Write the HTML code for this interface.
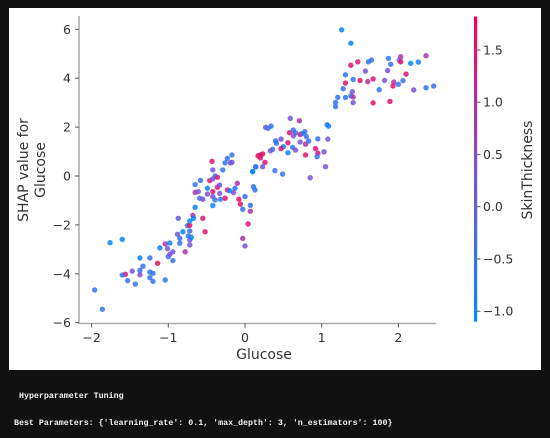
<!DOCTYPE html>
<html><head><meta charset="utf-8"><style>
html,body{margin:0;padding:0;background:#111111;width:550px;height:438px;overflow:hidden}
#panel{position:absolute;left:9px;top:8px;width:532px;height:362px;background:#fff}
svg{position:absolute;left:0;top:0}
.t{font-family:"DejaVu Sans","Liberation Sans",sans-serif;fill:#333;font-size:12.5px}
.mono{position:absolute;font-family:"Liberation Mono",monospace;font-size:8.3px;color:#f4f4f4;white-space:pre;font-weight:600}
</style></head><body>
<div id="panel"></div>
<svg id="chart" width="550" height="438"></svg>
<div class="mono" style="left:19px;top:392px">Hyperparameter Tuning</div>
<div class="mono" style="left:14px;top:419px">Best Parameters: {'learning_rate': 0.1, 'max_depth': 3, 'n_estimators': 100}</div>
<script>
const glucose=[-1.96,-1.86,-1.76,-1.60,-1.56,-1.60,-1.53,-1.47,-1.43,-1.37,-1.37,-1.33,-1.37,-1.24,-1.24,-1.20,-1.24,-1.20,-1.14,-1.04,-1.11,-1.04,-1.01,-0.98,-1.0,-0.98,-0.94,-0.94,-0.87,-0.88,-0.85,-0.85,-0.81,-0.78,-0.75,-0.72,-0.72,-0.74,-0.72,-0.72,-0.70,-0.68,-0.72,-0.67,-0.55,-0.52,-0.65,-0.65,-0.58,-0.65,-0.61,-0.59,-0.55,-0.49,-0.49,-0.46,-0.42,-0.43,-0.42,-0.39,-0.36,-0.42,-0.42,-0.39,-0.42,-0.36,-0.33,-0.33,-0.29,-0.26,-0.23,-0.17,-0.19,-0.26,-0.32,-0.23,-0.20,-0.15,-0.13,-0.10,-0.08,-0.06,-0.03,0.0,0.07,0.07,0.04,-0.03,0.0,0.10,0.14,0.11,0.13,0.17,
1.18,1.18,0.59,0.71,0.27,0.30,0.34,1.07,1.09,0.58,0.63,0.66,0.63,0.72,0.75,0.78,0.80,0.83,0.72,0.79,0.47,0.40,0.41,0.56,0.50,0.47,0.62,0.66,0.56,0.36,0.33,0.92,0.95,0.94,0.79,0.95,1.08,1.03,1.05,0.85,0.20,0.23,0.20,0.26,0.23,0.14,0.10,0.39,0.49,-0.17,
1.26,1.38,1.38,1.47,1.61,1.65,1.87,1.90,2.03,2.01,2.03,2.16,2.26,2.36,1.57,1.86,1.31,2.10,1.41,1.50,1.60,1.67,1.82,1.94,1.93,2.00,2.06,2.20,2.36,2.46,1.31,1.28,1.21,1.31,1.40,1.38,1.41,1.41,1.75,1.67,1.89];
const shapValue=[-4.66,-5.45,-2.73,-2.59,-4.02,-4.05,-4.28,-3.89,-4.42,-4.04,-3.86,-3.69,-3.35,-3.35,-3.93,-3.98,-4.16,-4.31,-3.57,-4.25,-2.94,-2.78,-2.97,-2.74,-3.30,-3.20,-3.10,-3.46,-1.73,-2.38,-2.55,-2.75,-2.28,-3.10,-2.03,-2.02,-2.25,-2.45,-2.62,-2.82,-2.51,-1.61,-1.84,-1.73,-1.73,-2.28,-1.28,-0.35,-0.18,-0.67,-0.64,-0.91,-0.95,-0.50,-0.74,-0.19,-0.12,0.60,0.25,0.0,-0.05,-0.64,-0.84,-0.98,-1.21,-0.46,-0.37,-0.71,0.25,0.54,0.72,0.86,0.54,-0.91,-0.95,-0.57,-0.60,-0.68,-0.50,-0.30,-0.95,-1.15,-1.36,-0.84,-1.20,-1.44,-1.96,-2.55,-2.86,0.18,0.38,-0.44,-0.57,0.83,
3.01,2.84,2.36,2.26,1.99,1.95,2.04,2.10,2.04,1.77,1.88,1.76,1.64,1.70,1.74,1.81,1.61,1.43,1.39,1.30,1.51,1.44,1.34,1.36,1.20,1.12,1.17,1.06,0.95,1.09,1.03,1.12,0.93,0.79,0.86,1.52,1.51,0.99,0.38,-0.07,0.86,0.90,0.74,0.56,0.38,0.37,0.18,0.22,0.08,0.56,
5.98,5.43,4.53,4.67,4.67,4.74,4.81,4.57,4.88,4.74,4.67,4.61,4.66,4.92,4.29,4.31,4.14,4.17,3.95,3.91,3.86,3.97,3.91,3.84,3.68,3.75,3.90,3.52,3.61,3.68,3.80,3.57,3.22,3.21,3.45,3.28,3.23,3.00,3.53,2.99,3.05];
const skinThickness=[-0.5,-0.5,-1.0,-1.0,1.5,-0.5,-0.5,0.3,-0.5,0.5,-0.5,-0.5,-1.0,-0.5,-0.5,-0.5,-0.5,-0.5,1.5,-0.5,-1.0,0.9,0.3,-1.0,-0.5,0.3,0.3,-0.5,0.1,0.1,-0.5,-0.5,-1.0,0.9,-0.5,1.5,-0.5,-0.5,0.3,0.3,-1.0,0.9,-1.0,-1.0,1.5,1.5,-1.0,-0.5,-0.5,0.9,0.3,-0.5,0.3,-1.0,0.3,1.5,0.3,1.5,0.3,-0.5,1.5,1.5,0.3,-0.5,-1.0,1.5,0.3,0.3,-0.5,-0.5,-0.5,-0.5,0.3,1.5,-0.5,1.5,-1.0,0.3,-0.5,0.9,1.5,1.5,-0.5,-0.5,-0.5,0.9,1.5,0.9,0.3,-1.0,-0.5,-0.5,-0.5,1.5,
-0.5,-0.5,0.3,0.9,0.3,-0.5,-0.5,-0.5,-1.0,1.5,-0.5,-0.5,0.3,1.5,-0.5,-0.5,-0.5,-0.5,0.3,0.9,0.3,-0.5,-0.5,1.5,-1.0,1.5,-0.5,0.3,-1.0,-0.5,0.3,1.5,1.5,-0.5,1.5,-0.5,0.3,0.3,0.3,0.3,1.5,1.5,1.5,1.5,0.3,-0.5,-1.0,-0.5,-0.5,0.3,
-1.0,-1.0,1.5,1.5,-0.5,-0.5,-0.5,-0.5,0.9,0.3,1.5,-1.0,-1.0,0.9,0.3,0.3,-0.5,1.5,-0.5,1.5,0.9,1.5,0.3,0.9,1.5,-0.5,-0.5,0.3,-0.5,-0.5,1.5,-0.5,-0.5,-0.5,0.3,-0.5,0.9,0.3,-0.5,1.5,1.5];
const xTicks=[-2,-1,0,1,2];
const yTicks=[-6,-4,-2,0,2,4,6];
const cTicks=[-1.0,-0.5,0.0,0.5,1.0,1.5];
const cMin=-1.1,cMax=1.82;

const NS="http://www.w3.org/2000/svg";
const svg=document.getElementById('chart');
const X=v=>245+v*76.7;
const Y=v=>176-v*24.45;
const CY=v=>206.7-v*104.5;
function color(v){
  let t=(v-cMin)/(cMax-cMin); t=Math.max(0,Math.min(1,t));
  const a=[0,138,251],m=[124,82,214],b=[255,0,82];
  let c;
  if(t<0.5){const u=t/0.5;c=a.map((x,i)=>x+(m[i]-x)*u);}
  else{const u=(t-0.5)/0.5;c=m.map((x,i)=>x+(b[i]-x)*u);}
  return 'rgb('+c.map(Math.round).join(',')+')';
}
function mk(tag,attrs,parent){const e=document.createElementNS(NS,tag);for(const k in attrs)e.setAttribute(k,attrs[k]);(parent||svg).appendChild(e);return e;}

const defs=mk('defs',{});
const grad=mk('linearGradient',{id:'cg',x1:0,y1:1,x2:0,y2:0},defs);
for(let i=0;i<=10;i++){mk('stop',{offset:i/10,'stop-color':color(cMin+(cMax-cMin)*i/10)},grad);}

const ys=mk('line',{x1:79,y1:16,x2:79,y2:323.5,stroke:'#aaa','stroke-width':1.5});


const xs=mk('line',{x1:78.3,y1:323.5,x2:436,y2:323.5,stroke:'#aaa','stroke-width':1.5});



yTicks.forEach(v=>{
  const y=Y(v);
  const tk=mk('line',{x1:75,y1:y,x2:79,y2:y,stroke:'#555','stroke-width':1});
  
  
  const tx=mk('text',{x:71,y:y+4.5,'text-anchor':'end',class:'t'});
  tx.textContent=v<0?'\u2212'+Math.abs(v):String(v);
  
  
});
xTicks.forEach(v=>{
  const x=X(v);
  const tk=mk('line',{x1:x,y1:323.5,x2:x,y2:327.5,stroke:'#555','stroke-width':1});
  
  
  const tx=mk('text',{x:x,y:342,'text-anchor':'middle',class:'t'});
  tx.textContent=v<0?'\u2212'+Math.abs(v):String(v);
  
  
});

glucose.forEach((g,i)=>{
  const c=mk('circle',{cx:X(g),cy:Y(shapValue[i]),r:2.7,fill:color(skinThickness[i]),'fill-opacity':0.85});
  
  
});

const cb=mk('rect',{x:474,y:CY(cMax),width:3.2,height:CY(cMin)-CY(cMax),fill:'url(#cg)'});


cTicks.forEach(v=>{
  const y=CY(v);
  const tk=mk('line',{x1:477,y1:y,x2:480.5,y2:y,stroke:'#555','stroke-width':1});
  
  
  const tx=mk('text',{x:483,y:y+4.5,class:'t'});
  tx.textContent=(v<0?'\u2212':'')+Math.abs(v).toFixed(1);
  
  
});

const xl=mk('text',{x:264,y:359,'text-anchor':'middle',class:'t'});
xl.style.fontSize='14px';xl.textContent='Glucose';


const yl=mk('text',{transform:'translate(28,170) rotate(-90)','text-anchor':'middle',class:'t'});
yl.style.fontSize='14px';


const t1=mk('tspan',{x:0,dy:0},yl);t1.textContent='SHAP value for';
const t2=mk('tspan',{x:0,dy:17},yl);t2.textContent='Glucose';
const cl=mk('text',{transform:'translate(532,170) rotate(-90)','text-anchor':'middle',class:'t'});
cl.style.fontSize='14px';cl.textContent='SkinThickness';


</script>
</body></html>
